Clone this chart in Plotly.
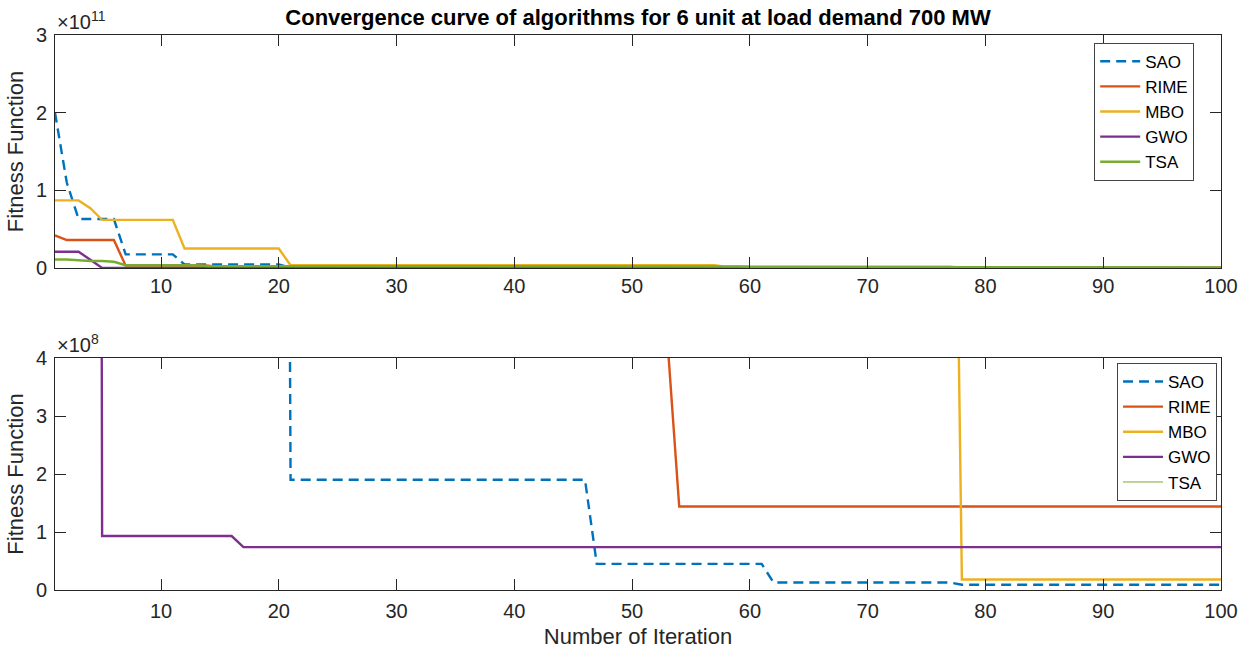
import plotly.graph_objects as go

# Iterations 1..100
iterations = list(range(1, 101))

# Best-so-far fitness: iteration at which each algorithm improved, and the new best value.
sao_iter = [1, 2, 3, 7, 12, 21, 47, 62, 78]
sao_best = [2.0e11, 1.1e11, 6.3e10, 1.75e10, 4.5e9, 1.9e8, 4.5e7, 1.3e7, 9.0e6]

rime_iter = [1, 2, 7, 15, 30, 45, 53, 54]
rime_best = [4.2e10, 3.6e10, 3.0e9, 1.5e9, 8.0e8, 5.5e8, 4.3e8, 1.44e8]

mbo_iter = [1, 4, 5, 12, 21, 58, 78]
mbo_best = [8.7e10, 7.7e10, 6.2e10, 2.5e10, 3.5e9, 1.5e9, 1.8e7]

gwo_iter = [1, 4, 5, 17]
gwo_best = [2.1e10, 1.05e10, 9.3e7, 7.4e7]

tsa_iter = [1, 3, 4, 6, 7, 14, 40, 60, 78, 93]
tsa_best = [1.1e10, 1.0e10, 9.0e9, 8.0e9, 3.5e9, 2.5e9, 2.0e9, 1.5e9, 1.2e9, 8.0e8]

names = ["SAO", "RIME", "MBO", "GWO", "TSA"]
colors = ["#0072BD", "#D95319", "#EDB120", "#7E2F8E", "#77AC30"]
series = [(sao_iter, sao_best), (rime_iter, rime_best), (mbo_iter, mbo_best),
          (gwo_iter, gwo_best), (tsa_iter, tsa_best)]

top_ticks = [0, 1e11, 2e11, 3e11]
top_ticktext = ["0", "1", "2", "3"]
bottom_ticks = [0, 1e8, 2e8, 3e8, 4e8]
bottom_ticktext = ["0", "1", "2", "3", "4"]
x_ticks = [10, 20, 30, 40, 50, 60, 70, 80, 90, 100]


def expand(change_iters, change_vals):
    """Hold each best value until the next improvement."""
    out = []
    k = 0
    for it in iterations:
        while k + 1 < len(change_iters) and change_iters[k + 1] <= it:
            k += 1
        out.append(change_vals[k])
    return out


FONT = "Liberation Sans, Arial, sans-serif"
AX = "#262626"

fig = go.Figure()
for (its, vals), name, col in zip(series, names, colors):
    y = expand(its, vals)
    dash = "10px,6px" if name == "SAO" else "solid"
    fig.add_trace(go.Scatter(x=iterations, y=y, mode="lines", name=name,
                             line=dict(color=col, width=2.4, dash=dash),
                             xaxis="x", yaxis="y", legend="legend"))
for (its, vals), name, col in zip(series, names, colors):
    y = expand(its, vals)
    dash = "10px,6px" if name == "SAO" else "solid"
    w = 1.0 if name == "TSA" else 2.4
    fig.add_trace(go.Scatter(x=iterations, y=y, mode="lines", name=name,
                             line=dict(color=col, width=w, dash=dash),
                             xaxis="x2", yaxis="y2", legend="legend2"))

axis_common = dict(showline=True, linecolor=AX, linewidth=1, mirror="ticks",
                   ticks="inside", ticklen=11, tickcolor=AX, tickwidth=1,
                   showgrid=False, zeroline=False, automargin=False,
                   tickfont=dict(family=FONT, size=20, color=AX))

legend_common = dict(font=dict(family=FONT, size=17, color="#000000"),
                     bgcolor="white", bordercolor="#444444", borderwidth=1,
                     xanchor="right", yanchor="top", tracegroupgap=0,
                     itemwidth=40)

fig.update_layout(
    width=1249, height=652,
    margin=dict(l=55, r=28, t=35, b=62),
    plot_bgcolor="white", paper_bgcolor="white",
    font=dict(family=FONT, color=AX),
    showlegend=True,
    xaxis=dict(domain=[0, 1], range=[1, 100], tickvals=x_ticks, anchor="y",
               ticklabelstandoff=0, **axis_common),
    yaxis=dict(domain=[0.5802, 1], range=[0, 3e11], tickvals=top_ticks,
               ticktext=top_ticktext, anchor="x", ticklabelstandoff=3,
               title=dict(text="Fitness Function", standoff=6,
                          font=dict(family=FONT, size=22, color=AX)),
               **axis_common),
    xaxis2=dict(domain=[0, 1], range=[1, 100], tickvals=x_ticks, anchor="y2",
                ticklabelstandoff=3,
                title=dict(text="Number of Iteration", standoff=7,
                           font=dict(family=FONT, size=22, color=AX)),
                **axis_common),
    yaxis2=dict(domain=[0, 0.418], range=[0, 4e8], tickvals=bottom_ticks,
                ticktext=bottom_ticktext, anchor="x2", ticklabelstandoff=3,
                title=dict(text="Fitness Function", standoff=6,
                           font=dict(family=FONT, size=22, color=AX)),
                **axis_common),
    legend=dict(x=0.977, y=0.986, **legend_common),
    legend2=dict(x=0.9966, y=0.409, **legend_common),
    title=dict(text="<b>Convergence curve of algorithms for 6 unit at load demand 700 MW</b>",
               x=0.5, xref="paper", xanchor="center", y=0.974, yanchor="middle",
               font=dict(family=FONT, size=22, color="#000000")),
    annotations=[
        dict(text="×10<sup>11</sup>", xref="paper", yref="paper", x=0.0, y=1.0,
             xanchor="left", yanchor="bottom", showarrow=False,
             font=dict(family=FONT, size=20, color=AX)),
        dict(text="×10<sup>8</sup>", xref="paper", yref="paper", x=0.0, y=0.418,
             xanchor="left", yanchor="bottom", showarrow=False,
             font=dict(family=FONT, size=20, color=AX)),
    ],
)

fig.write_html("out.html")
